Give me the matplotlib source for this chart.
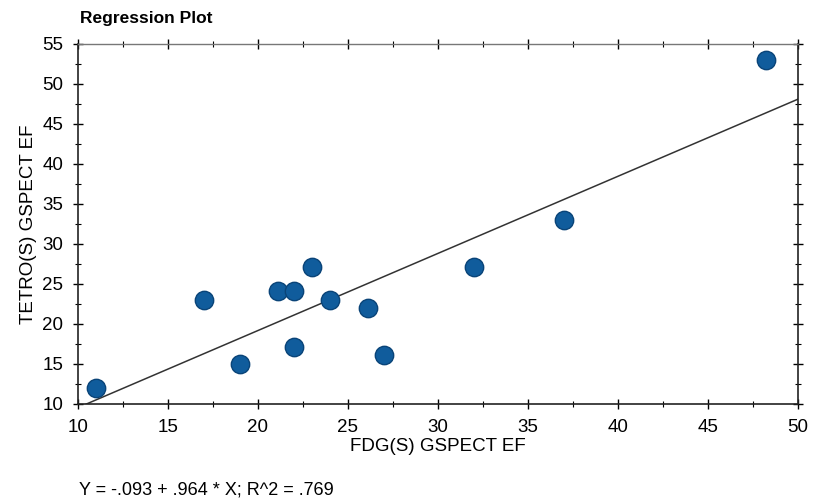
import numpy as np
import matplotlib
import matplotlib.pyplot as plt
from matplotlib.ticker import MultipleLocator
matplotlib.use('Agg')

plt.rcParams['font.family'] = ['Liberation Sans', 'DejaVu Sans']

# data
fdg = [11, 17, 19, 21.1, 22, 22, 23, 24, 26.1, 27, 32, 37, 48.2]
tetro = [12, 23, 15, 24.1, 24.1, 17.1, 27.1, 23, 22, 16.1, 27.1, 33, 53]
intercept = -0.093
slope = 0.964
x_ticks = [10, 15, 20, 25, 30, 35, 40, 45, 50]
y_ticks = [10, 15, 20, 25, 30, 35, 40, 45, 50, 55]

fig = plt.figure(figsize=(8.18, 5.01), dpi=100)
ax = fig.add_axes([78 / 818, 1 - 404 / 501, 720 / 818, 360 / 501])

# regression line, clipped by the axes
xs = np.array([10, 50])
ax.plot(xs, intercept + slope * xs, color='#333333', lw=1.1, zorder=2)

ax.scatter(fdg, tetro, s=175, color='#105c9c', edgecolors='#0a4478',
           linewidths=1.0, zorder=3)

ax.set_xlim(10, 50)
ax.set_ylim(10, 55)
ax.set_xticks(x_ticks)
ax.set_yticks(y_ticks)
ax.xaxis.set_minor_locator(MultipleLocator(2.5))
ax.yaxis.set_minor_locator(MultipleLocator(2.5))
ax.tick_params(which='major', direction='inout', length=7, width=1,
               labelsize=13.5, top=True, right=True, pad=7)
ax.tick_params(which='minor', direction='inout', length=4, width=0.8,
               top=True, right=True)
for side in ['left', 'bottom', 'right']:
    ax.spines[side].set_linewidth(1.2)
    ax.spines[side].set_color('#222222')
ax.spines['top'].set_color('#777777')
ax.spines['top'].set_linewidth(1.0)

ax.set_xlabel('FDG(S) GSPECT EF', fontsize=13.5, labelpad=2)
ax.set_ylabel('TETRO(S) GSPECT EF', fontsize=13.5, labelpad=4)

fig.text(80 / 818, 1 - 18 / 501, 'Regression Plot', fontsize=12.5,
         fontweight='bold', va='center', ha='left')
fig.text(79 / 818, 1 - 490 / 501, 'Y = -.093 + .964 * X; R^2 = .769',
         fontsize=13, va='center', ha='left')

fig.savefig('out.png', dpi=100)
